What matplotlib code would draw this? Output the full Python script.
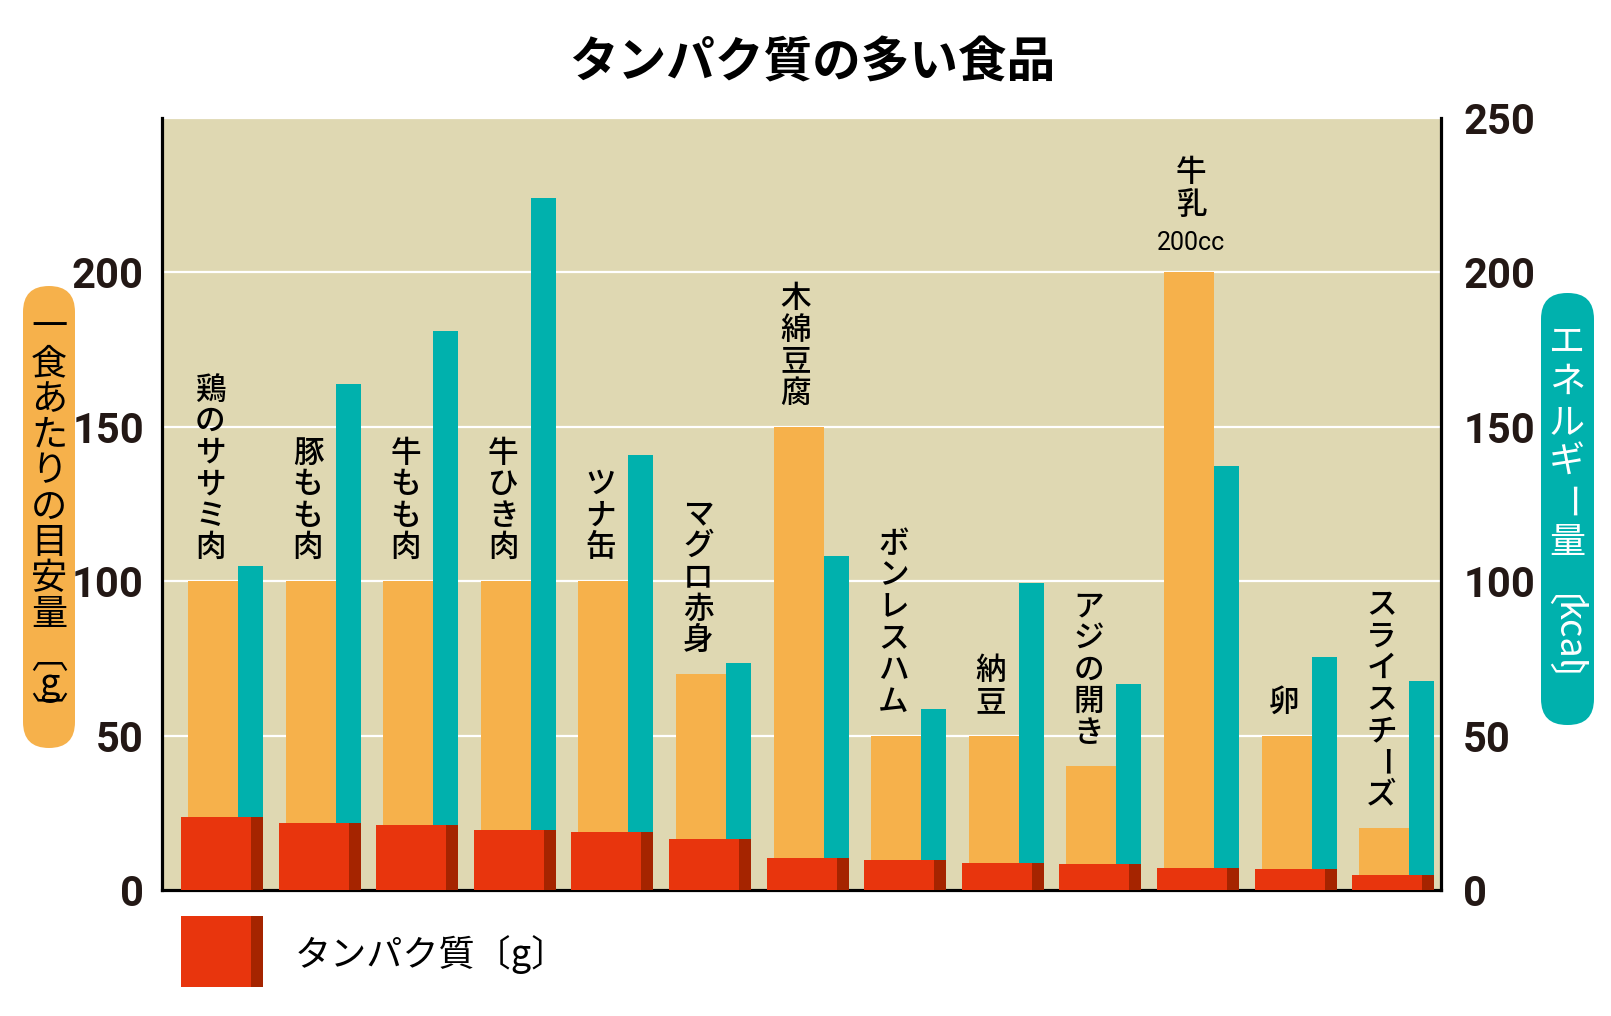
import numpy as np
import matplotlib.pyplot as plt
from matplotlib.patches import Rectangle, FancyBboxPatch
from matplotlib.transforms import Affine2D

plt.rcParams['font.family'] = ['Noto Sans CJK JP', 'DejaVu Sans']

# データ
foods = ['鶏のササミ肉', '豚もも肉', '牛もも肉', '牛ひき肉', 'ツナ缶', 'マグロ赤身', '木綿豆腐',
         'ボンレスハム', '納豆', 'アジの開き', '牛乳', '卵', 'スライスチーズ']
serving_g = [100, 100, 100, 100, 100, 70, 150, 50, 50, 40, 200, 50, 20]      # 一食あたりの目安量
energy_kcal = [105, 164, 181, 224, 141, 73.5, 108, 58.6, 99.5, 66.6, 137.4, 75.5, 67.6]
protein_g = [23.6, 21.8, 21.0, 19.4, 18.9, 16.4, 10.4, 9.8, 8.6, 8.4, 7.2, 6.7, 4.9]
milk_note = '200cc'
left_ticks = [0, 50, 100, 150, 200]
right_ticks = [0, 50, 100, 150, 200, 250]

BG = '#DFD8B2'
ORANGE = '#F6B14B'
TEAL = '#00B1AD'
RED = '#E8350D'
DARK = '#A52400'
NUM_FONT = ['Roboto', 'DejaVu Sans']

W, H = 1611, 1016
fig = plt.figure(figsize=(W / 100, H / 100), dpi=100)
pix = Affine2D().scale(1 / W, 1 / H) + fig.transFigure   # ピクセル座標(下原点)

ax = fig.add_axes([162 / W, 1 - 890 / H, (1441 - 162) / W, (890 - 118) / H])
ax2 = ax.twinx()
ax.set_zorder(ax2.get_zorder() + 1)
ax.patch.set_visible(False)
ax2.patch.set_visible(True)
ax2.patch.set_facecolor(BG)

x = np.arange(len(foods))

# エネルギー量 (右軸)
ax2.bar(x + 0.164, energy_kcal, width=0.256, align='edge', color=TEAL, zorder=3)
# 目安量とタンパク質 (左軸)
ax.bar(x - 0.348, serving_g, width=0.512, align='edge', color=ORANGE, zorder=2)
ax.bar(x - 0.42, protein_g, width=0.84, align='edge', color=RED, zorder=3)
ax.bar(x + 0.297, protein_g, width=0.123, align='edge', color=DARK, zorder=4)

for a in (ax, ax2):
    a.set_xlim(-0.615, 12.49)
    a.set_ylim(0, 250)
    a.set_xticks([])
    for s in a.spines.values():
        s.set_visible(False)

ax.set_yticks(left_ticks)
ax2.set_yticks(right_ticks)
ax2.yaxis.grid(True, color='white', lw=1.6)
ax2.set_axisbelow(True)
ax.tick_params(axis='y', length=0, pad=13)
ax2.tick_params(axis='y', length=0, pad=16)
for lab in ax.get_yticklabels() + ax2.get_yticklabels():
    lab.set_fontfamily(NUM_FONT)
    lab.set_fontweight('bold')
    lab.set_fontstretch('condensed')
    lab.set_fontsize(30)
    lab.set_color('#231815')

ax.spines['left'].set_visible(True)
ax.spines['bottom'].set_visible(True)
ax2.spines['right'].set_visible(True)
for s in (ax.spines['left'], ax.spines['bottom'], ax2.spines['right']):
    s.set_linewidth(2.3)
    s.set_color('black')


def stack(a, xv, yv, text, base, pitch, **kw):
    chars = list(text)
    n = len(chars)
    for k, ch in enumerate(chars):
        rot = -90 if ch == 'ー' else 0
        a.annotate(ch, (xv, yv), xytext=(0, base + (n - 1 - k) * pitch),
                   textcoords='offset points', ha='center', va='center',
                   rotation=rot, **kw)


# 食品名
for i, name in enumerate(foods):
    if name == '牛乳':
        ax.annotate(milk_note, (i - 0.07, serving_g[i]), xytext=(0, 21),
                    textcoords='offset points', ha='center', va='center',
                    fontsize=18, family=NUM_FONT, fontstretch='condensed',
                    color='black', zorder=6)
        stack(ax, i - 0.07, serving_g[i], name, 48, 24, fontsize=22,
              fontweight='medium', color='black', zorder=6)
    else:
        stack(ax, i - 0.12, serving_g[i], name, 24, 22.7, fontsize=22,
              fontweight='medium', color='black', zorder=6)

# タイトル
fig.text(812, H - 63, 'タンパク質の多い食品', transform=pix, ha='center', va='center',
         fontsize=35, fontweight='bold')

# 左軸ラベル
fig.patches.append(FancyBboxPatch((23, H - 748), 52, 462, boxstyle='round,pad=0,rounding_size=26',
                                  transform=pix, fc=ORANGE, ec='none'))
left_chars = ['一', '食', 'あ', 'た', 'り', 'の', '目', '安', '量']
for k, ch in enumerate(left_chars):
    fig.text(49, H - (328 + k * 35.9), ch, transform=pix, ha='center', va='center', fontsize=26)
for ch, yy in zip(['︹', 'g', '︺'], [657, 685, 713]):
    fig.text(49, H - yy, ch, transform=pix, ha='center', va='center', fontsize=26)

# 右軸ラベル
fig.patches.append(FancyBboxPatch((1541, H - 725), 53, 432, boxstyle='round,pad=0,rounding_size=26',
                                  transform=pix, fc=TEAL, ec='none'))
right_chars = ['エ', 'ネ', 'ル', 'ギ', 'ー', '量']
for k, ch in enumerate(right_chars):
    fig.text(1567, H - (343 + k * 40), ch, transform=pix, ha='center', va='center', fontsize=26,
             color='white', rotation=-90 if ch == 'ー' else 0)
fig.text(1567, H - 590, '︹', transform=pix, ha='center', va='center', fontsize=26, color='white')
fig.text(1567, H - 637, 'kcal', transform=pix, ha='center', va='center', fontsize=26,
         color='white', rotation=-90)
fig.text(1567, H - 684, '︺', transform=pix, ha='center', va='center', fontsize=26, color='white')

# 凡例
fig.patches.append(Rectangle((181, H - 987), 70, 71, transform=pix, fc=RED, ec='none'))
fig.patches.append(Rectangle((251, H - 987), 12, 71, transform=pix, fc=DARK, ec='none'))
fig.text(295, H - 955, 'タンパク質〔g〕', transform=pix, ha='left', va='center', fontsize=26)

plt.savefig('out.png', dpi=100)
